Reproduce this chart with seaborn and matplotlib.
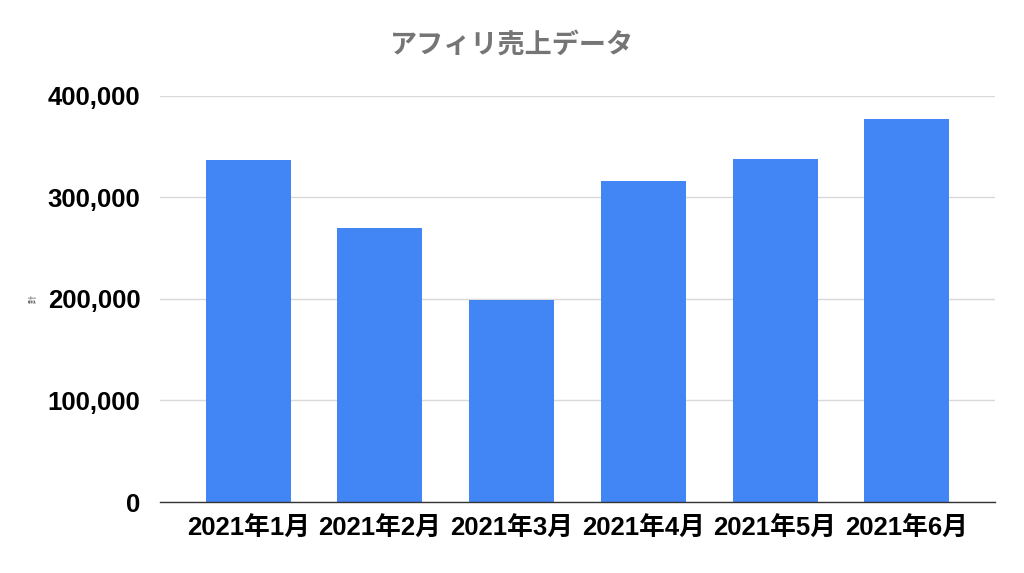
import matplotlib
matplotlib.use("Agg")
import matplotlib.pyplot as plt
import matplotlib.ticker as mticker
import pandas as pd
import seaborn as sns

# Datos
meses = ["2021年1月", "2021年2月", "2021年3月", "2021年4月", "2021年5月", "2021年6月"]
ventas = [337000, 270000, 199000, 316500, 338000, 377000]
ticks_y = [0, 100000, 200000, 300000, 400000]

titulo = "アフィリ売上データ"
etiqueta_y = "計"


def generar_barras(ruta_imagen="out.png"):
    """
    Genera el grafico de barras de ventas mensuales y lo guarda como imagen.
    """
    sns.set_theme(style="white")
    plt.rcParams["font.family"] = ["Liberation Sans", "Noto Sans CJK JP", "DejaVu Sans"]

    df = pd.DataFrame({"mes": meses, "ventas": ventas})

    fig = plt.figure(figsize=(10.24, 5.73), dpi=100)
    ax = fig.add_axes([0.15625, 0.1239, 0.8154, 0.7086])

    sns.barplot(data=df, x="mes", y="ventas", color="#4285f4", saturation=1,
                width=0.645, ax=ax, edgecolor="none")

    # Ejes y cuadricula
    ax.set_xlim(-0.67, 5.67)
    ax.set_ylim(0, 400000)
    ax.set_yticks(ticks_y)
    ax.yaxis.set_major_formatter(mticker.FuncFormatter(lambda v, p: f"{int(v):,}"))
    ax.grid(axis="y", color="#d9d9d9", linewidth=1)
    ax.set_axisbelow(True)
    for lado in ["top", "right", "left"]:
        ax.spines[lado].set_visible(False)
    ax.spines["bottom"].set_color("#333333")
    ax.spines["bottom"].set_linewidth(1)

    ax.tick_params(axis="both", length=0, colors="#000000")
    ax.tick_params(axis="y", pad=14, labelsize=18.5)
    ax.tick_params(axis="x", pad=11, labelsize=18.5)
    for lbl in ax.get_xticklabels() + ax.get_yticklabels():
        lbl.set_fontweight("bold")

    ax.set_xlabel("")
    ax.set_ylabel(etiqueta_y, fontsize=6, color="#444444")
    ax.yaxis.set_label_coords(-0.147, 0.5)

    fig.text(0.5, 0.921, titulo, ha="center", va="center", fontsize=19.5,
             fontweight="bold", color="#757575")

    plt.savefig(ruta_imagen, dpi=100)
    plt.close(fig)


generar_barras()
